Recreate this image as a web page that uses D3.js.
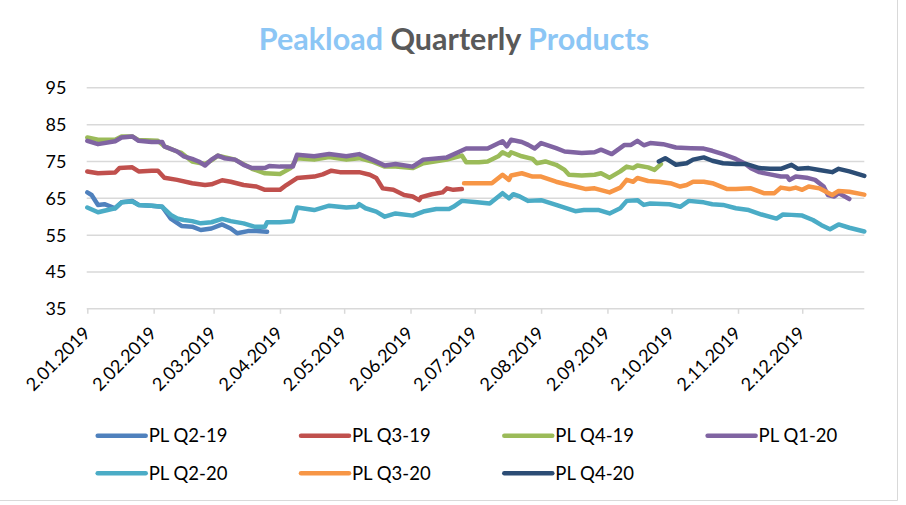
<!DOCTYPE html>
<html>
<head>
<meta charset="utf-8">
<script src="https://cdn.jsdelivr.net/npm/d3@7/dist/d3.min.js"></script>
<style>
  html, body { margin: 0; padding: 0; background: #ffffff; }
  svg { display: block; }
  text { font-family: Lato, "Noto Sans", sans-serif; }
</style>
</head>
<body>
<svg id="chart" width="906" height="505"></svg>
<script>
// ---------------- DATA ----------------
const titleParts = [
  { text: "Peakload ", color: "#8CC6F5" },
  { text: "Quarterly ", color: "#595959" },
  { text: "Products", color: "#8CC6F5" }
];
const yTicks = [35, 45, 55, 65, 75, 85, 95];
const xTickDates = ["2019-01-02","2019-02-02","2019-03-02","2019-04-02","2019-05-02","2019-06-02",
                    "2019-07-02","2019-08-02","2019-09-02","2019-10-02","2019-11-02","2019-12-02"];
const xDomain = ["2019-01-02", "2019-12-31"];

const seriesNames = ["PL Q2-19","PL Q3-19","PL Q4-19","PL Q1-20","PL Q2-20","PL Q3-20","PL Q4-20"];

const plQ2_19 = [["01-02",66.6],["01-04",65.9],["01-07",63.2],["01-10",63.4],["01-15",62.3],["01-18",63.9],
  ["01-23",64.3],["01-26",63.2],["02-01",63.0],["02-06",62.7],["02-10",59.5],["02-15",57.5],["02-20",57.3],
  ["02-24",56.4],["03-01",56.8],["03-06",57.9],["03-10",56.8],["03-13",55.5],["03-18",56.1],["03-22",56.1],
  ["03-27",55.9]];

const plQ3_19 = [["01-02",72.3],["01-07",71.8],["01-15",72.0],["01-17",73.2],["01-23",73.4],["01-26",72.3],
  ["02-01",72.5],["02-04",72.5],["02-07",70.6],["02-13",70.0],["02-20",69.1],["02-26",68.6],["03-01",68.8],
  ["03-06",69.9],["03-10",69.5],["03-16",68.6],["03-22",68.2],["03-26",67.3],["04-02",67.3],["04-05",68.6],
  ["04-10",70.5],["04-18",70.9],["04-22",71.5],["04-26",72.5],["04-30",72.1],["05-09",72.1],["05-14",71.4],
  ["05-17",70.5],["05-20",67.7],["05-25",67.3],["05-30",65.9],["06-03",65.5],["06-06",64.5],["06-07",65.3],
  ["06-12",66.1],["06-17",66.6],["06-19",67.7],["06-22",67.3],["06-26",67.5]];

const plQ4_19 = [["01-02",81.5],["01-07",80.9],["01-15",80.9],["01-18",81.8],["01-23",81.8],["01-26",80.8],
  ["02-04",80.6],["02-07",79.1],["02-13",77.7],["02-15",77.3],["02-20",75.0],["02-26",74.3],["03-01",75.3],
  ["03-04",76.6],["03-12",75.5],["03-20",73.0],["03-26",71.8],["04-02",71.6],["04-07",73.2],["04-10",75.9],
  ["04-18",75.5],["04-25",76.2],["05-03",75.5],["05-09",75.9],["05-15",75.0],["05-21",73.6],["05-26",73.6],
  ["06-03",73.2],["06-08",74.5],["06-19",75.5],["06-26",76.6],["06-28",74.8],["07-04",74.8],["07-08",75.0],
  ["07-13",76.4],["07-15",77.5],["07-18",76.6],["07-19",77.5],["07-24",76.4],["07-29",75.7],["07-31",74.5],
  ["08-04",75.0],["08-09",74.1],["08-13",72.7],["08-15",71.4],["08-21",71.2],["08-27",71.4],["08-30",71.8],
  ["09-03",70.6],["09-08",72.3],["09-11",73.6],["09-14",73.2],["09-16",73.9],["09-21",73.4],["09-24",72.7],
  ["09-27",74.3]];

const plQ1_20 = [["01-02",80.6],["01-07",79.7],["01-15",80.5],["01-18",81.5],["01-23",81.8],["01-26",80.6],
  ["02-01",80.3],["02-06",80.3],["02-07",79.1],["02-13",77.7],["02-16",76.4],["02-20",75.7],["02-23",75.0],
  ["02-26",73.9],["03-01",75.5],["03-04",76.6],["03-07",75.9],["03-12",75.5],["03-16",74.1],["03-20",73.2],
  ["03-26",73.2],["03-28",73.8],["04-02",73.6],["04-08",73.6],["04-10",76.8],["04-18",76.4],["04-25",77.0],
  ["05-03",76.4],["05-09",77.0],["05-15",75.5],["05-21",73.9],["05-26",74.3],["06-03",73.6],["06-08",75.5],
  ["06-19",76.1],["06-25",77.7],["06-28",78.5],["07-08",78.5],["07-15",80.5],["07-17",79.1],["07-19",80.9],
  ["07-24",80.3],["07-27",79.5],["07-30",78.5],["08-02",80.0],["08-09",78.6],["08-13",77.7],["08-21",77.3],
  ["08-27",77.5],["08-30",78.2],["09-04",77.0],["09-10",79.5],["09-13",79.5],["09-16",80.6],["09-19",79.4],
  ["09-22",80.0],["09-28",79.7],["10-04",78.8],["10-11",78.6],["10-17",78.5],["10-21",77.9],["10-26",77.0],
  ["11-01",75.7],["11-05",74.5],["11-08",73.2],["11-12",72.1],["11-17",71.5],["11-22",70.9],["11-25",70.9],
  ["11-26",70.0],["11-29",70.9],["12-04",70.6],["12-08",70.0],["12-12",68.2],["12-14",65.9],["12-17",65.5],
  ["12-19",66.4],["12-24",64.8]];

const plQ2_20 = [["01-02",62.5],["01-07",61.2],["01-15",62.3],["01-18",63.9],["01-23",64.1],["01-26",63.2],
  ["02-01",63.0],["02-06",62.7],["02-10",60.5],["02-13",59.5],["02-16",59.1],["02-20",58.8],["02-24",58.2],
  ["03-01",58.5],["03-06",59.4],["03-10",58.8],["03-16",58.2],["03-21",57.3],["03-26",57.3],["03-27",58.5],
  ["04-02",58.5],["04-08",58.8],["04-10",62.5],["04-18",61.8],["04-25",63.0],["05-03",62.5],["05-08",62.7],
  ["05-09",63.4],["05-12",62.3],["05-17",61.4],["05-21",60.0],["05-26",60.9],["06-03",60.3],["06-08",61.4],
  ["06-14",62.1],["06-20",62.1],["06-22",62.7],["06-26",64.3],["07-02",64.0],["07-09",63.6],["07-15",66.4],
  ["07-18",65.0],["07-20",66.1],["07-23",65.5],["07-27",64.3],["08-02",64.5],["08-09",63.2],["08-18",61.5],
  ["08-22",61.8],["08-29",61.8],["09-03",60.9],["09-08",62.3],["09-11",64.3],["09-16",64.5],["09-19",63.2],
  ["09-22",63.6],["10-01",63.4],["10-06",62.7],["10-10",64.3],["10-17",63.9],["10-21",63.4],["10-26",63.2],
  ["11-01",62.3],["11-07",61.8],["11-13",60.6],["11-20",59.5],["11-23",60.6],["11-27",60.5],["12-02",60.3],
  ["12-07",59.1],["12-11",57.7],["12-15",56.6],["12-19",57.9],["12-24",57.0],["12-31",56.0]];

const plQ3_20 = [["06-27",69.1],["07-04",69.1],["07-10",69.1],["07-15",71.4],["07-18",70.0],["07-19",71.2],
  ["07-24",71.8],["07-29",70.9],["08-02",70.9],["08-09",69.5],["08-15",68.6],["08-18",68.2],["08-23",67.5],
  ["08-27",67.7],["09-03",66.6],["09-08",67.9],["09-11",70.0],["09-14",69.5],["09-16",70.5],["09-21",69.7],
  ["09-26",69.5],["10-02",69.0],["10-06",68.2],["10-09",68.6],["10-12",69.5],["10-17",69.5],["10-21",69.1],
  ["10-28",67.5],["11-01",67.5],["11-08",67.7],["11-14",66.4],["11-19",66.4],["11-22",67.9],["11-26",67.5],
  ["11-29",67.9],["12-02",67.3],["12-05",68.2],["12-10",67.7],["12-16",65.9],["12-19",67.0],["12-24",66.8],
  ["12-31",66.0]];

const plQ4_20 = [["09-26",75.0],["09-29",75.9],["10-02",74.8],["10-04",74.1],["10-09",74.5],["10-12",75.5],
  ["10-17",76.1],["10-21",75.2],["10-26",74.5],["11-01",74.3],["11-06",74.3],["11-12",73.2],["11-17",73.0],
  ["11-22",73.0],["11-27",74.1],["11-30",73.0],["12-05",73.2],["12-10",72.7],["12-16",72.1],["12-19",73.0],
  ["12-24",72.3],["12-31",71.1]];

// ---------------- STYLE ----------------
const seriesColors = ["#4F81BD","#C0504D","#9BBB59","#8064A2","#4BACC6","#F79646","#2C4D75"];
const seriesData = [plQ2_19, plQ3_19, plQ4_19, plQ1_20, plQ2_20, plQ3_20, plQ4_20];

const W = 906, H = 505;
const plot = { left: 87.3, right: 864.3, top: 87.8, bottom: 308.8 };

const svg = d3.select("#chart");
const parseDate = d3.timeParse("%Y-%m-%d");

const x = d3.scaleTime()
  .domain(xDomain.map(parseDate))
  .range([plot.left, plot.right]);
const y = d3.scaleLinear()
  .domain([35, 95])
  .range([plot.bottom, plot.top]);

// border (right & bottom)
svg.append("line").attr("x1", 897.5).attr("x2", 897.5).attr("y1", 0).attr("y2", 500.5)
  .attr("stroke", "#D9D9D9").attr("stroke-width", 1);
svg.append("line").attr("x1", 0).attr("x2", 897.5).attr("y1", 500.5).attr("y2", 500.5)
  .attr("stroke", "#D9D9D9").attr("stroke-width", 1);

// title
const title = svg.append("text")
  .attr("x", 454).attr("y", 50)
  .attr("text-anchor", "middle")
  .style("font-size", "30.5px").style("font-weight", "700");
titleParts.forEach(p => title.append("tspan").attr("fill", p.color).text(p.text));

// gridlines
svg.append("g").selectAll("line")
  .data(yTicks.filter(t => t !== 35))
  .join("line")
  .attr("x1", plot.left - 0.6).attr("x2", plot.right)
  .attr("y1", d => y(d)).attr("y2", d => y(d))
  .attr("stroke", "#D9D9D9").attr("stroke-width", 1.5);

// y labels
svg.append("g").selectAll("text")
  .data(yTicks)
  .join("text")
  .attr("x", 66.5).attr("y", d => y(d))
  .attr("dy", "0.36em")
  .attr("text-anchor", "end")
  .attr("fill", "#000")
  .style("font-size", "18px")
  .text(d => d);

// x axis
const xAxis = d3.axisBottom(x)
  .tickValues(xTickDates.map(parseDate))
  .tickSize(5)
  .tickSizeOuter(0)
  .tickFormat(d3.timeFormat("%-d.%m.%Y"));
const gx = svg.append("g")
  .attr("transform", `translate(0,${plot.bottom})`)
  .call(xAxis);
gx.select(".domain").attr("stroke", "#D9D9D9").attr("stroke-width", 1.5)
  .attr("d", `M${plot.left - 0.6},0H${plot.right}`);
gx.selectAll(".tick line").attr("stroke", "#D9D9D9").attr("stroke-width", 1.5);
gx.selectAll(".tick text")
  .attr("fill", "#000")
  .style("font-size", "18px")
  .style("font-family", "Lato, 'Noto Sans', sans-serif")
  .attr("text-anchor", "end")
  .attr("y", 0).attr("dy", "0.35em")
  .attr("transform", "translate(-1,21) rotate(-45)");

// lines
const line = d3.line()
  .x(d => x(parseDate("2019-" + d[0])))
  .y(d => y(d[1]));

svg.append("g").selectAll("path")
  .data(seriesData)
  .join("path")
  .attr("d", d => line(d))
  .attr("fill", "none")
  .attr("stroke", (d, i) => seriesColors[i])
  .attr("stroke-width", 4.5)
  .attr("stroke-linejoin", "round")
  .attr("stroke-linecap", "round");

// legend
const legend = svg.append("g");
const legItems = legend.selectAll("g")
  .data(seriesNames)
  .join("g")
  .attr("transform", (d, i) => `translate(${97.7 + (i % 4) * 203.3},${i < 4 ? 435.7 : 473.3})`);
legItems.append("line")
  .attr("x1", 0).attr("x2", 48)
  .attr("y1", 0).attr("y2", 0)
  .attr("stroke", (d, i) => seriesColors[i])
  .attr("stroke-width", 4.5)
  .attr("stroke-linecap", "round");
legItems.append("text")
  .attr("x", 51).attr("y", 0).attr("dy", "0.36em")
  .attr("fill", "#000")
  .style("font-size", "18.5px")
  .text(d => d);
</script>
</body>
</html>
